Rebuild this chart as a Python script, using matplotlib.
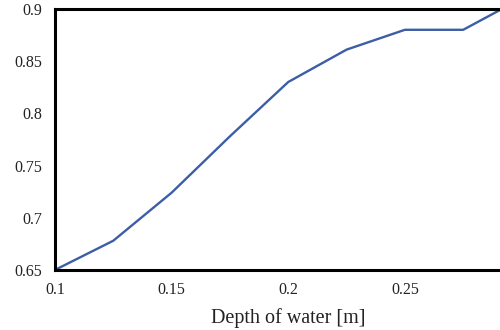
import numpy as np
import matplotlib
matplotlib.use('Agg')
import matplotlib.pyplot as plt

depth = [0.1, 0.125, 0.15, 0.175, 0.2, 0.225, 0.25, 0.275, 0.3]
value = [0.65, 0.678, 0.724, 0.778, 0.83, 0.861, 0.88, 0.88, 0.91]
xticks = [0.1, 0.15, 0.2, 0.25]
xticklabels = ['0.1', '0.15', '0.2', '0.25']
yticks = [0.65, 0.7, 0.75, 0.8, 0.85, 0.9]
yticklabels = ['0.65', '0.7', '0.75', '0.8', '0.85', '0.9']

plt.rcParams['font.family'] = ['Liberation Serif', 'DejaVu Serif']

fig = plt.figure(figsize=(5, 3.3), dpi=100)
ax = fig.add_axes([0.11, 0.182, 0.933, 0.791])

ax.plot(depth, value, color='#3d5ea6', lw=1.7)
ax.set_xlim(0.1, 0.3)
ax.set_ylim(0.65, 0.9)
ax.set_xticks(xticks)
ax.set_xticklabels(xticklabels)
ax.set_yticks(yticks)
ax.set_yticklabels(yticklabels)
ax.tick_params(length=0, labelsize=11.5, colors='#222222', pad=9)
for s in ax.spines.values():
    s.set_linewidth(2.2)
    s.set_color('black')
ax.set_xlabel('Depth of water [m]', fontsize=14.5, color='#222222', labelpad=7)

fig.savefig('out.png', dpi=100)
